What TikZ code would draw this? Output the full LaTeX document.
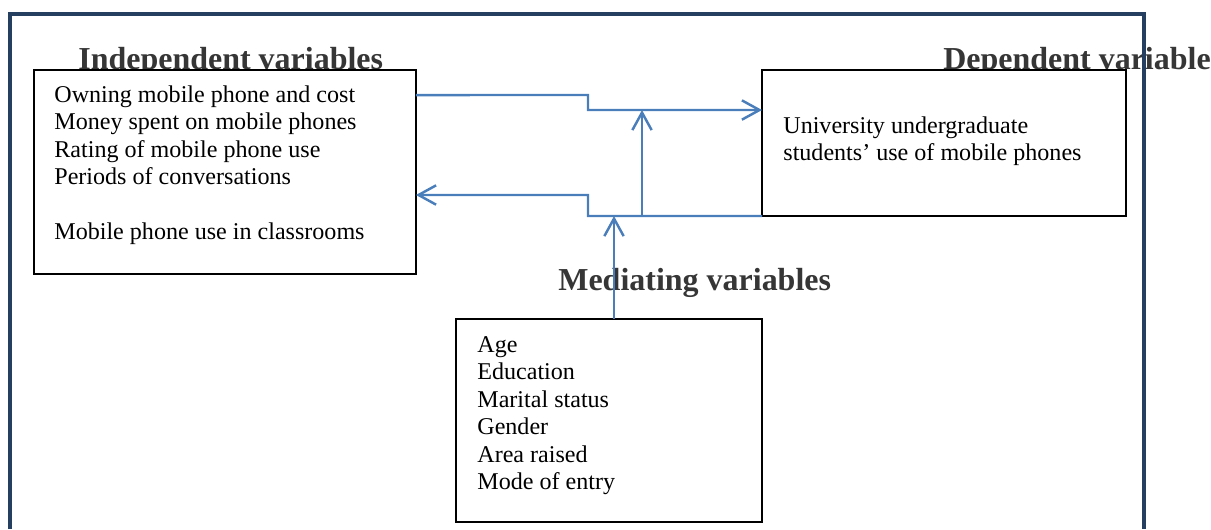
\documentclass[tikz,border=0pt]{standalone}
\usepackage{fontspec}
\setmainfont{Liberation Serif}
\usepackage{xcolor}
\usepackage{tikz}
\usetikzlibrary{arrows.meta,positioning,calc}

\definecolor{framecol}{HTML}{243F60}
\definecolor{linkcol}{HTML}{4A7EBB}
\definecolor{headcol}{HTML}{363636}

\begin{document}
\begin{tikzpicture}[x=0.02cm, y=-0.02cm,
  varbox/.style={draw, fill=white, line width=1.1pt, inner sep=0pt, outer sep=0pt},
  vartext/.style={anchor=north west, align=left, inner sep=0pt, font=\fontsize{13.7}{15.65}\selectfont},
  heading/.style={anchor=base west, inner sep=0pt, text=headcol, font=\fontsize{18.2}{21}\selectfont\bfseries},
  link/.style={linkcol, line width=1.4pt},
  tip/.style={-{Straight Barb[length=10pt, width=11pt]}}]
  \useasboundingbox (0,0) rectangle (1211,529);
  % titles
  \node[heading] (indephead) at (78,69) {Independent variables};
  \node[heading] (dephead) at (943,69) {Dependent variable};
  \node[heading] (medihead) at (558,290) {Mediating variables};
  % frame
  \draw[framecol, line width=2.8pt] (10,529) -- (10,14) -- (1144,14) -- (1144,529);
  % boxes
  \node[varbox, minimum width=7.64cm, minimum height=4.08cm] (indep) at (225,172) {};
  \node[varbox, minimum width=7.28cm, minimum height=2.92cm] (dep) at (944,143) {};
  \node[varbox, minimum width=6.12cm, minimum height=4.06cm] (medi) at (609,420.5) {};
  \node[vartext] (indeptext) at ([shift={(20,15)}]indep.north west)
    {Owning mobile phone and cost\\ Money spent on mobile phones\\ Rating of mobile phone use\\
     Periods of conversations\\[0.55cm] Mobile phone use in classrooms};
  \node[vartext] (deptext) at ([shift={(21,46)}]dep.north west)
    {University undergraduate\\ students’ use of mobile phones};
  \node[vartext] (meditext) at ([shift={(21,17)}]medi.north west)
    {Age\\ Education\\ Marital status\\ Gender\\ Area raised\\ Mode of entry};
  % links
  \coordinate (upjog) at (588,95);
  \coordinate (lowjog) at (588,216);
  \coordinate (mid) at (642,216);
  \draw[link, tip] ([yshift=-0.5cm]indep.north east) -- (upjog) |- ([yshift=-0.8cm]dep.north west);
  \draw[link, tip] (dep.south west) -- (lowjog) -- ++(0,-21) -- ([yshift=-2.5cm]indep.north east);
  \draw[link, tip] (mid) -- ++(0,-106);
  \draw[link, tip] ([xshift=0.1cm]medi.north) -- ++(0,-103);
\end{tikzpicture}
\end{document}
